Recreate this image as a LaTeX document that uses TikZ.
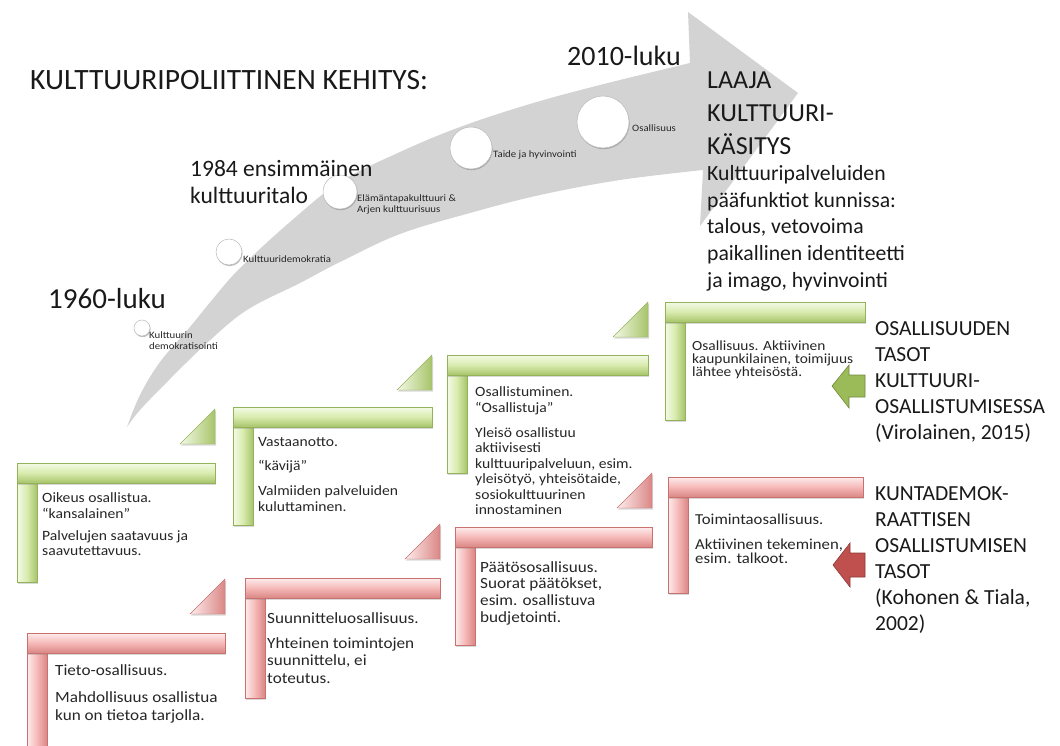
\documentclass[tikz,border=0pt]{standalone}
\usepackage{fontspec}
\setmainfont{Carlito}
\newfontfamily\smallfont[FakeStretch=1.1]{Carlito}
\usepackage{xcolor}
\usetikzlibrary{shadows}

\definecolor{gHi}{HTML}{F4FAE6}
\definecolor{gMid}{HTML}{D9EBAE}
\definecolor{gLo}{HTML}{A7C46A}
\definecolor{gEdge}{HTML}{94B25A}
\definecolor{rHi}{HTML}{FDEDED}
\definecolor{rMid}{HTML}{F5B9B8}
\definecolor{rLo}{HTML}{DA8785}
\definecolor{rEdge}{HTML}{C9716F}
\definecolor{arrowgray}{HTML}{D3D3D3}
\definecolor{gArrow}{HTML}{9BBB59}
\definecolor{gArrowEdge}{HTML}{71893F}
\definecolor{rArrow}{HTML}{C0504D}
\definecolor{rArrowEdge}{HTML}{8C3836}
\definecolor{txt}{HTML}{262626}

\begin{document}
\begin{tikzpicture}[
          x=1pt, y=-1pt,
          barshadow/.style={drop shadow={shadow xshift=1pt, shadow yshift=-1.5pt, opacity=0.3}},
          greenh/.style={top color=gHi, bottom color=gLo, middle color=gMid, draw=gEdge, line width=0.4pt, barshadow},
          greenv/.style={left color=gHi, right color=gLo, middle color=gMid, draw=gEdge, line width=0.4pt, barshadow},
          greentri/.style={left color=gHi, right color=gLo, draw=gEdge, line width=0.4pt, barshadow},
          redh/.style={top color=rHi, bottom color=rLo, middle color=rMid, draw=rEdge, line width=0.4pt, barshadow},
          redv/.style={left color=rHi, right color=rLo, middle color=rMid, draw=rEdge, line width=0.4pt, barshadow},
          redtri/.style={left color=rHi, right color=rLo, draw=rEdge, line width=0.4pt, barshadow},
          dot/.style={circle, fill=white, draw=gray!55, line width=0.5pt, inner sep=0,
                      drop shadow={shadow xshift=0.6pt, shadow yshift=-1.2pt, opacity=0.5}},
          tiny/.style={font=\smallfont\fontsize{9.8}{11.5}\selectfont, align=left, inner sep=0, text=txt},
          title/.style={inner sep=0, text=black!90, align=left},
          steptext/.style={anchor=north west, align=left, inner sep=0, text=txt},
          gtext/.style={steptext, font=\smallfont\fontsize{14.2}{15.5}\selectfont},
          rtext/.style={steptext, font=\smallfont\fontsize{15.6}{17.5}\selectfont},
          sidetext/.style={anchor=north west, align=left, inner sep=0, text=black!90, font=\fontsize{21.5}{26}\selectfont}
        ]
          \useasboundingbox (0,0) rectangle (1060,746);

          % curved grey arrow
          \fill[arrowgray] plot[smooth, tension=0.6] coordinates {(127,427) (140,395) (160,362) (190,327) (212,300) (240,268) (290,222) (340,182) (400,152) (460,127) (530,104) (600,85) (690,63)}
            -- (688,12) -- (798,93) -- (700,226) -- (703,170)
            -- plot[smooth, tension=0.6] coordinates {(703,170) (620,180) (540,195) (470,213) (400,234) (340,262) (300,283) (247,310) (207,343) (167,382) (140,410) (127,427)} -- cycle;

          % milestones on the arrow
          \node[dot, minimum size=16pt] (demokratisointi) at (142,328) {};
          \node[dot, minimum size=26pt] (demokratia) at (229,252) {};
          \node[dot, minimum size=34pt] (elamantapa) at (340,192) {};
          \node[dot, minimum size=42pt] (taide) at (471,148) {};
          \node[dot, minimum size=52pt] (osallisuus) at (603,122) {};

          \node[tiny, anchor=north west] (demokratisointilbl) at (149,331) {Kulttuurin\\demokratisointi};
          \node[tiny, anchor=west] (demokratialbl) at (243,259) {Kulttuuridemokratia};
          \node[tiny, anchor=north west] (elamantapalbl) at (357,194) {Elämäntapakulttuuri \&\\Arjen kulttuurisuus};
          \node[tiny, anchor=west] (taidelbl) at (493,155) {Taide ja hyvinvointi};
          \node[tiny, anchor=west] (osallisuuslbl) at (632,128) {Osallisuus};

          % headings
          \node[title, anchor=west, font=\fontsize{29.5}{35}\selectfont] (kehitys) at (30,80) {KULTTUURIPOLIITTINEN KEHITYS:};
          \node[title, anchor=west, font=\fontsize{28}{33}\selectfont] (luku2010) at (567,56) {2010-luku};
          \node[title, anchor=west, font=\fontsize{29}{34}\selectfont] (luku1960) at (48,299) {1960-luku};
          \node[title, anchor=north west, font=\fontsize{23.5}{27}\selectfont] (talo) at (190,160) {1984 ensimmäinen\\kulttuuritalo};
          \node[title, anchor=north west, font=\fontsize{26}{33}\selectfont] (laaja) at (707,72) {LAAJA\\KULTTUURI-\\KÄSITYS};
          \node[title, anchor=north west, font=\fontsize{21.7}{26.75}\selectfont] (funktiot) at (707,165)
            {Kulttuuripalveluiden\\pääfunktiot kunnissa:\\talous, vetovoima\\paikallinen identiteetti\\ja imago, hyvinvointi};

          % green steps (Virolainen)
          \shadedraw[greenv] (17,483) rectangle (37,582);
          \shadedraw[greenh] (17,463) rectangle (215,483);
          \shadedraw[greentri] (180,444) -- (215,444) -- (215,409) -- cycle;
          \shadedraw[greenv] (233,427) rectangle (253,525);
          \shadedraw[greenh] (233,407) rectangle (432,427);
          \shadedraw[greentri] (397,390) -- (432,390) -- (432,355) -- cycle;
          \shadedraw[greenv] (447,375) rectangle (467,473);
          \shadedraw[greenh] (447,355) rectangle (648,375);
          \shadedraw[greentri] (613,337) -- (648,337) -- (648,302) -- cycle;
          \shadedraw[greenv] (665,322) rectangle (685,420);
          \shadedraw[greenh] (665,302) rectangle (865,322);

          % red steps (Kohonen & Tiala)
          \shadedraw[redv] (27,653) rectangle (47,752);
          \shadedraw[redh] (27,633) rectangle (225,653);
          \shadedraw[redtri] (190,614) -- (225,614) -- (225,579) -- cycle;
          \shadedraw[redv] (245,598) rectangle (265,698);
          \shadedraw[redh] (245,578) rectangle (440,598);
          \shadedraw[redtri] (405,559) -- (440,559) -- (440,524) -- cycle;
          \shadedraw[redv] (455,547) rectangle (475,645);
          \shadedraw[redh] (455,527) rectangle (652,547);
          \shadedraw[redtri] (617,508) -- (652,508) -- (652,473) -- cycle;
          \shadedraw[redv] (668,497) rectangle (688,593);
          \shadedraw[redh] (668,477) rectangle (863,497);

          % step texts
          \node[gtext] (oikeus) at (42,492.5) {Oikeus osallistua.\\“kansalainen”\\[6.5pt]Palvelujen saatavuus ja\\saavutettavuus.};
          \node[gtext] (vastaanotto) at (258,437.5) {Vastaanotto.\\[8.5pt]“kävijä”\\[9.5pt]Valmiiden palveluiden\\kuluttaminen.};
          \node[gtext] (osallistuminen) at (475,386.5) {Osallistuminen.\\“Osallistuja”\\[9.5pt]Yleisö osallistuu\\aktiivisesti\\kulttuuripalveluun, esim.\\yleisötyö, yhteisötaide,\\sosiokulttuurinen\\innostaminen};
          \node[gtext, font=\smallfont\fontsize{14}{12.8}\selectfont] (osallisuustaso) at (692,341) {Osallisuus. Aktiivinen\\kaupunkilainen, toimijuus\\lähtee yhteisöstä.};

          \node[rtext] (tieto) at (55,664) {Tieto-osallisuus.\\[10pt]Mahdollisuus osallistua\\kun on tietoa tarjolla.};
          \node[rtext] (suunnittelu) at (267,612) {Suunnitteluosallisuus.\\[7.5pt]Yhteinen toimintojen\\suunnittelu, ei\\toteutus.};
          \node[rtext, font=\smallfont\fontsize{15.6}{16.7}\selectfont] (paatos) at (480,561) {Päätösosallisuus.\\Suorat päätökset,\\esim. osallistuva\\budjetointi.};
          \node[rtext, font=\smallfont\fontsize{15.2}{13.5}\selectfont] (toiminta) at (695,514) {Toimintaosallisuus.\\[11.5pt]Aktiivinen tekeminen,\\esim. talkoot.};

          % side arrows and labels
          \filldraw[fill=gArrow, draw=gArrowEdge, line width=0.6pt] (832,386) -- (849,365) -- (849,375) -- (865,375) -- (865,397) -- (849,397) -- (849,408) -- cycle;
          \filldraw[fill=rArrow, draw=rArrowEdge, line width=0.6pt] (833,565) -- (850,543) -- (850,553) -- (865,553) -- (865,577) -- (850,577) -- (850,587) -- cycle;

          \node[sidetext] (virolainen) at (875,321) {OSALLISUUDEN\\TASOT\\KULTTUURI-\\OSALLISTUMISESSA\\(Virolainen, 2015)};
          \node[sidetext] (kohonen) at (875,486) {KUNTADEMOK-\\RAATTISEN\\OSALLISTUMISEN\\TASOT\\(Kohonen \& Tiala,\\2002)};

        \end{tikzpicture}
\end{document}
